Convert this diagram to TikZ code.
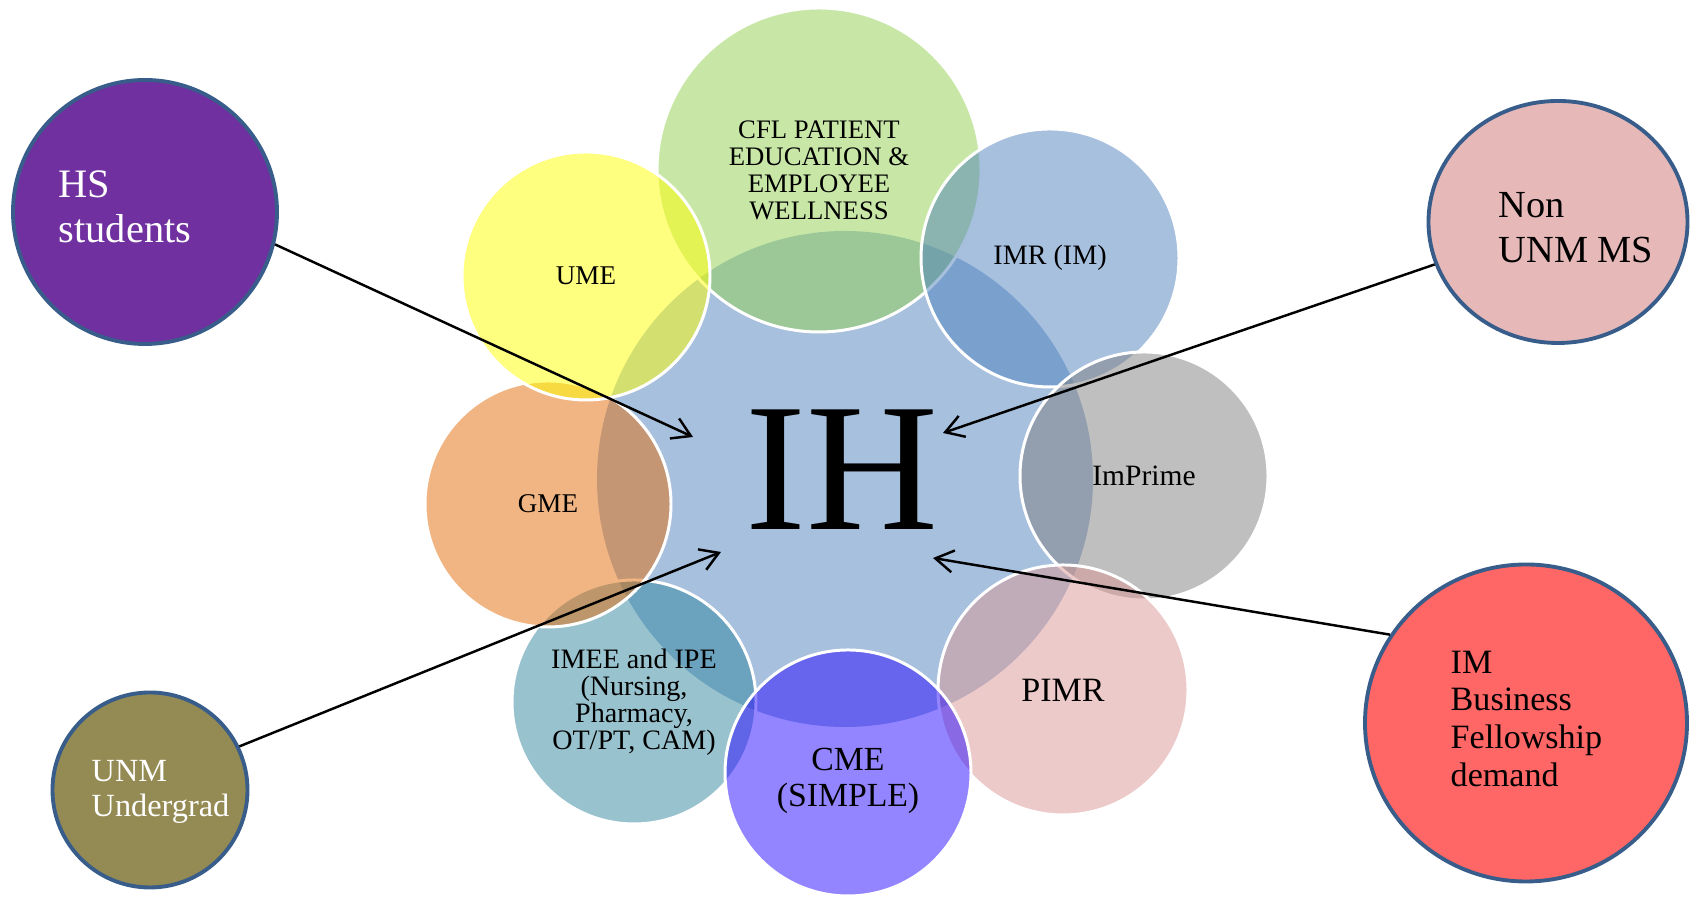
\documentclass[tikz,border=0pt]{standalone}
\usepackage{fontspec}
\setmainfont{Liberation Serif}
\usetikzlibrary{arrows.meta,shapes.geometric}

\definecolor{ihblau}{HTML}{4F81BD}
\definecolor{cflgruen}{HTML}{92D050}
\definecolor{umegelb}{HTML}{FFFF00}
\definecolor{primegrau}{HTML}{7F7F7F}
\definecolor{pimrrosa}{HTML}{D99694}
\definecolor{cmeviolett}{RGB}{40,10,255}
\definecolor{imeetuerkis}{HTML}{31859C}
\definecolor{gmeorange}{HTML}{E36C09}
\definecolor{hslila}{HTML}{7030A0}
\definecolor{nonrosa}{HTML}{E6B9B8}
\definecolor{bizrot}{HTML}{FF6666}
\definecolor{unmoliv}{HTML}{948A54}
\definecolor{randblau}{HTML}{385D8A}

\tikzset{
	kreis/.style={circle, inner sep=0pt, draw=white, line width=0.85pt,
		fill opacity=0.5, text opacity=1, align=center, text=black},
	aussen/.style={inner sep=0pt, draw=randblau, line width=1.1pt},
	pfeil/.style={line width=0.7pt, -{Straight Barb[length=1.8mm,width=2.2mm]}},
}

\begin{document}
\begin{tikzpicture}
	\useasboundingbox (0,0) rectangle (16.94,8.99);
	% Kreis in der Mitte
	\node[kreis, draw=none, fill=ihblau, minimum size=4.96cm] (ih) at (8.45,4.20) {};
	% Kreise rundherum
	\node[kreis, fill=cflgruen, minimum size=3.24cm,
		font=\fontsize{7.6pt}{7.7pt}\selectfont] (cfl) at (8.19,7.29)
		{CFL PATIENT\\EDUCATION \&\\EMPLOYEE\\WELLNESS};
	\node[kreis, fill=ihblau, minimum size=2.58cm,
		font=\fontsize{8pt}{8pt}\selectfont] (imr) at (10.50,6.41) {IMR (IM)};
	\node[kreis, fill=primegrau, minimum size=2.48cm,
		font=\fontsize{8.4pt}{8.4pt}\selectfont] (imprime) at (11.44,4.23) {ImPrime};
	\node[kreis, fill=pimrrosa, minimum size=2.50cm,
		font=\fontsize{9.7pt}{9.7pt}\selectfont] (pimr) at (10.63,2.09) {PIMR};
	\node[kreis, fill=imeetuerkis, minimum size=2.44cm,
		font=\fontsize{8pt}{7.7pt}\selectfont] (imee) at (6.34,1.97)
		{IMEE and IPE\\(Nursing,\\Pharmacy,\\OT/PT, CAM)};
	\node[kreis, fill=cmeviolett, minimum size=2.46cm] (cme) at (8.48,1.26) {};
	\node[kreis, fill=gmeorange, minimum size=2.46cm,
		font=\fontsize{7.7pt}{7.7pt}\selectfont] (gme) at (5.48,3.95) {GME};
	\node[kreis, fill=umegelb, minimum size=2.48cm,
		font=\fontsize{7.7pt}{7.7pt}\selectfont] (ume) at (5.86,6.23) {UME};
	% Texte innen
	\node[font=\fontsize{52pt}{52pt}\selectfont, inner sep=0pt] (ih-text)
		at (8.42,4.29) {IH};
	\node[align=center, inner sep=0pt,
		font=\fontsize{9.6pt}{10.2pt}\selectfont] (cme-text) at (8.48,1.18)
		{CME\\(SIMPLE)};

	% Kreise aussen
	\node[aussen, circle, fill=hslila, minimum size=2.64cm] (hs) at (1.45,6.87) {};
	\node[aussen, ellipse, fill=nonrosa, minimum width=2.59cm,
		minimum height=2.42cm] (nonunm) at (15.58,6.77) {};
	\node[aussen, ellipse, fill=bizrot, minimum width=3.22cm,
		minimum height=3.17cm] (imbiz) at (15.26,1.76) {};
	\node[aussen, circle, fill=unmoliv, minimum size=1.95cm] (unm) at (1.50,1.09) {};
	% Texte aussen
	\node[anchor=west, align=left, inner sep=0pt, text=white,
		font=\fontsize{11.5pt}{12.8pt}\selectfont] (hs-text) at (0.58,6.92)
		{HS\\students};
	\node[anchor=west, align=left, inner sep=0pt,
		font=\fontsize{10.9pt}{12.8pt}\selectfont] (nonunm-text) at (14.98,6.71)
		{Non\\UNM MS};
	\node[anchor=west, align=left, inner sep=0pt,
		font=\fontsize{9.7pt}{10.8pt}\selectfont] (imbiz-text) at (14.50,1.80)
		{IM\\Business\\Fellowship\\demand};
	\node[anchor=west, align=left, inner sep=0pt, text=white,
		font=\fontsize{9.2pt}{10pt}\selectfont] (unm-text) at (0.91,1.07)
		{UNM\\Undergrad};

	% Pfeile
	\coordinate (ziel-hs) at (6.93,4.62);
	\coordinate (ziel-unm) at (7.21,3.47);
	\coordinate (ziel-non) at (9.43,4.66);
	\coordinate (ziel-biz) at (9.33,3.41);
	\draw[pfeil] (hs.-14) -- (ziel-hs);
	\draw[pfeil] (unm.26) -- (ziel-unm);
	\draw[pfeil] (nonunm.199) -- (ziel-non);
	\draw[pfeil] (imbiz.147) -- (ziel-biz);
\end{tikzpicture}
\end{document}
